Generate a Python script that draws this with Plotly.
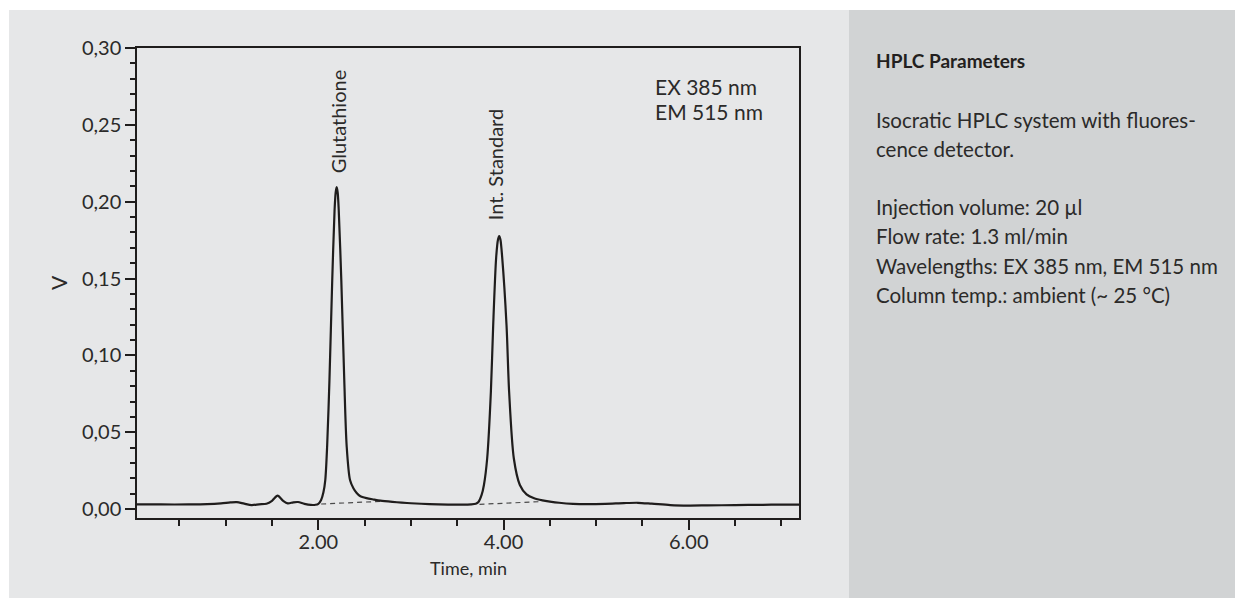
import plotly.graph_objects as go

# Chromatogram: retention time (min) and fluorescence detector signal (V)
time_min = [
    0.04, 0.30, 0.60, 0.80, 0.95, 1.05, 1.12, 1.20, 1.28, 1.36, 1.44, 1.50,
    1.56, 1.62, 1.67, 1.73, 1.78, 1.85, 1.92, 1.97, 2.00, 2.03, 2.055, 2.075,
    2.095, 2.12, 2.15, 2.175, 2.187, 2.198, 2.209, 2.22, 2.248, 2.28, 2.306,
    2.342, 2.38, 2.414, 2.45, 2.52, 2.60, 2.67, 2.80, 2.90, 3.00, 3.20, 3.40,
    3.55, 3.65, 3.70, 3.726, 3.763, 3.788, 3.823, 3.863, 3.888, 3.92, 3.94,
    3.953, 3.966, 3.985, 4.032, 4.06, 4.111, 4.176, 4.248, 4.33, 4.42, 4.50,
    4.60, 4.75, 4.90, 5.10, 5.30, 5.45, 5.60, 5.80, 6.00, 6.20, 6.50, 6.80,
    7.00, 7.19,
]
signal_v = [
    0.0031, 0.0031, 0.0031, 0.0033, 0.0038, 0.0044, 0.0046, 0.0036, 0.0027, 0.0032, 0.0036, 0.0055,
    0.0088, 0.0055, 0.0038, 0.0045, 0.0047, 0.0035, 0.0028, 0.0029, 0.0035, 0.0060, 0.0110, 0.0190,
    0.0410, 0.0840, 0.1490, 0.1940, 0.2060, 0.2095, 0.2060, 0.1950, 0.1490, 0.0840, 0.0410,
    0.0190, 0.0135, 0.0106, 0.0086, 0.0072, 0.0063, 0.0056, 0.0048, 0.0043, 0.0039, 0.0033, 0.0030,
    0.0030, 0.0032, 0.0036, 0.0045, 0.0093, 0.0158, 0.0330, 0.0764, 0.1197, 0.1636, 0.1755,
    0.1777, 0.1755, 0.1640, 0.1197, 0.0764, 0.0330, 0.0158, 0.0097, 0.0072, 0.0058, 0.0050,
    0.0042, 0.0035, 0.0033, 0.0035, 0.0040, 0.0042, 0.0036, 0.0027, 0.0024, 0.0025, 0.0027, 0.0029,
    0.0030, 0.0030,
]

# Integration baselines under the two peaks
baseline_gsh_t = [2.03, 2.70]
baseline_gsh_v = [0.0034, 0.0052]
baseline_is_t = [3.74, 4.42]
baseline_is_v = [0.0032, 0.0050]

# Peak annotations
peak_names = ["Glutathione", "Int. Standard"]
peak_label_t = [2.213, 3.916]
peak_label_v = [0.2172, 0.1869]

# Axis ticks
y_tick_vals = [0.00, 0.05, 0.10, 0.15, 0.20, 0.25, 0.30]
y_tick_text = ["0,00", "0,05", "0,10", "0,15", "0,20", "0,25", "0,30"]
x_tick_vals = [2, 4, 6]
x_tick_text = ["2.00", "4.00", "6.00"]

detector_lines = ["EX 385 nm", "EM 515 nm"]
panel_title = "HPLC Parameters"
panel_lines = [
    "Isocratic HPLC system with fluores-",
    "cence detector.",
    "Injection volume: 20 µl",
    "Flow rate: 1.3 ml/min",
    "Wavelengths: EX 385 nm, EM 515 nm",
    "Column temp.: ambient (~ 25 °C)",
]

# ---- page geometry (pixels) ----
W, H = 1235, 599
ML, MR, MT, MB = 137, 436, 48, 81
PW, PH = W - ML - MR, H - MT - MB


def px(x):
    return (x - ML) / PW


def py(y):
    return (H - MB - y) / PH


FONT = "Lato, 'Open Sans', sans-serif"
INK = "#1f1d1c"
TXT = "#2b2a29"

fig = go.Figure()

fig.add_trace(go.Scatter(
    x=baseline_gsh_t, y=baseline_gsh_v, mode="lines",
    line=dict(color="#4a4a4a", width=1.2, dash="5px,4px"),
    hoverinfo="skip", showlegend=False,
))
fig.add_trace(go.Scatter(
    x=baseline_is_t, y=baseline_is_v, mode="lines",
    line=dict(color="#4a4a4a", width=1.2, dash="5px,4px"),
    hoverinfo="skip", showlegend=False,
))
fig.add_trace(go.Scatter(
    x=time_min, y=signal_v, mode="lines",
    line=dict(color=INK, width=2.2, shape="spline", smoothing=0.8),
    hoverinfo="skip", showlegend=False,
))

# background panels
fig.add_shape(type="rect", xref="paper", yref="paper",
              x0=px(9), x1=px(849), y0=py(598), y1=py(10),
              fillcolor="#e6e7e8", line=dict(width=0), layer="below")
fig.add_shape(type="rect", xref="paper", yref="paper",
              x0=px(849), x1=px(W), y0=py(598), y1=py(10),
              fillcolor="#d1d3d4", line=dict(width=0), layer="below")

annotations = []
for name, t, v in zip(peak_names, peak_label_t, peak_label_v):
    annotations.append(dict(
        x=t, y=v, xref="x", yref="y", text=name, showarrow=False,
        textangle=-90, xanchor="center", yanchor="bottom",
        font=dict(family=FONT, size=20, color=TXT),
    ))

for line, base in zip(detector_lines, [94, 119]):
    annotations.append(dict(
        x=px(653), y=py(base - 8), xref="paper", yref="paper", text=line,
        showarrow=False, xanchor="left", yanchor="middle",
        font=dict(family=FONT, size=21, color=TXT),
    ))

# axis titles
annotations.append(dict(
    x=px(58), y=py(283), xref="paper", yref="paper", text="V",
    showarrow=False, textangle=-90, xanchor="center", yanchor="middle",
    font=dict(family=FONT, size=21, color=TXT),
))
annotations.append(dict(
    x=px(468), y=py(568), xref="paper", yref="paper", text="Time, min",
    showarrow=False, xanchor="center", yanchor="middle",
    font=dict(family=FONT, size=18, color=TXT),
))

# parameter panel
annotations.append(dict(
    x=px(874), y=py(68 - 7.5), xref="paper", yref="paper",
    text="<b>" + panel_title + "</b>", showarrow=False,
    xanchor="left", yanchor="middle",
    font=dict(family=FONT, size=19, color="#231f20"),
))
for line, base in zip(panel_lines, [128.3, 156.7, 215, 244.3, 274, 303.3]):
    annotations.append(dict(
        x=px(874), y=py(base - 8), xref="paper", yref="paper", text=line,
        showarrow=False, xanchor="left", yanchor="middle",
        font=dict(family=FONT, size=20.5, color=TXT),
    ))

axis_common = dict(
    showgrid=False, zeroline=False, showline=True, linecolor=INK,
    linewidth=1.5, mirror=True, ticks="outside", tickcolor=INK,
    tickwidth=1.5, ticklen=10,
    tickfont=dict(family=FONT, size=20, color=TXT),
)

fig.update_layout(
    width=W, height=H,
    margin=dict(l=ML, r=MR, t=MT, b=MB, pad=0),
    paper_bgcolor="white",
    plot_bgcolor="rgba(0,0,0,0)",
    font=dict(family=FONT, color=TXT),
    annotations=annotations,
    xaxis=dict(
        range=[0.042, 7.19], tickmode="array",
        tickvals=x_tick_vals, ticktext=x_tick_text,
        ticklabelstandoff=-5,
        minor=dict(tickmode="linear", tick0=0, dtick=0.5, ticks="outside",
                   ticklen=6, tickwidth=1.5, tickcolor=INK, showgrid=False),
        **axis_common,
    ),
    yaxis=dict(
        range=[-0.0057, 0.30], tickmode="array",
        tickvals=y_tick_vals, ticktext=y_tick_text,
        minor=dict(tickmode="linear", tick0=0, dtick=0.01, ticks="outside",
                   ticklen=5, tickwidth=1.5, tickcolor=INK, showgrid=False),
        **axis_common,
    ),
)

fig.write_html("out.html")
